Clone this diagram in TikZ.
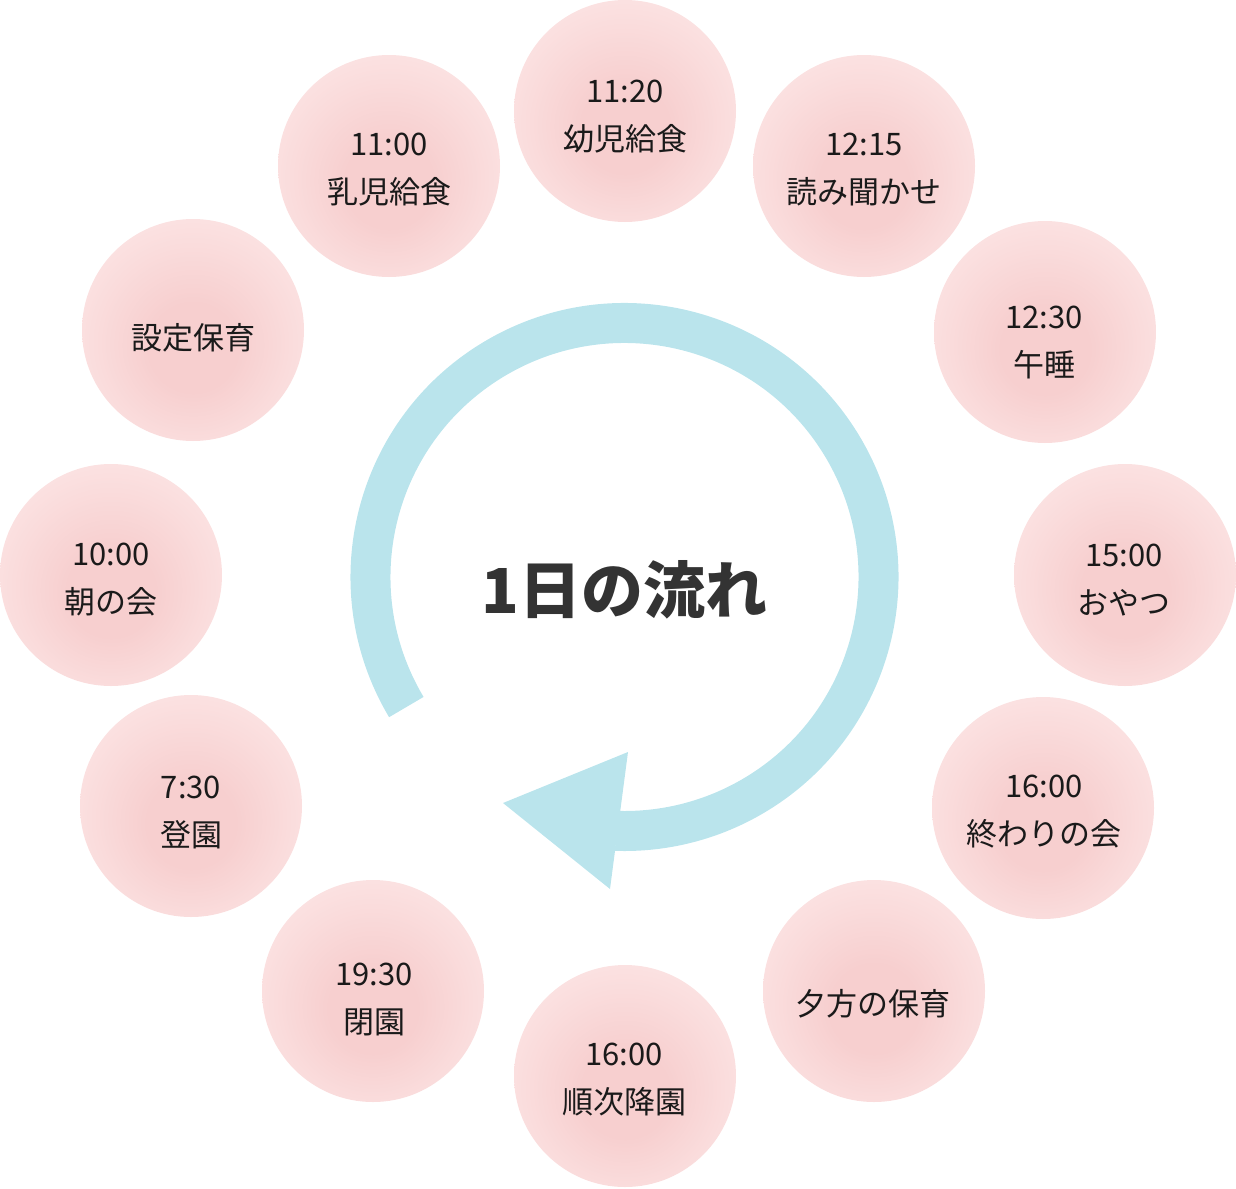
\documentclass[tikz,border=0pt]{standalone}
\usepackage{fontspec}
\newfontfamily\jp{Noto Sans CJK JP}
\usetikzlibrary{calc}
\definecolor{pinkL}{HTML}{FDE8E8}
\definecolor{pinkM}{HTML}{FADCDC}
\definecolor{pinkD}{HTML}{F7CFCF}
\definecolor{ringC}{HTML}{BAE4EC}
\definecolor{titleC}{HTML}{333333}
\definecolor{txtC}{HTML}{1A1A1A}
\pgfdeclareradialshading{bubbleshade}{\pgfpoint{0bp}{-5bp}}{color(0bp)=(pinkD); color(10bp)=(pinkD); color(22bp)=(pinkM); color(34bp)=(pinkL); color(50bp)=(pinkL)}
\tikzset{
  bubble/.style={circle, minimum size=222pt, inner sep=0pt, shading=bubbleshade},
  label/.style={align=center, text=txtC, font=\jp\fontsize{31}{48}\selectfont},
  ring/.style={draw=ringC, line width=40pt},
}
\begin{document}
\begin{tikzpicture}[x=1pt, y=-1pt]
\useasboundingbox (0,0) rectangle (1236,1188);
% circles
\node[bubble] (c1)  at (625,111) {};
\node[bubble] (c2)  at (389,166) {};
\node[bubble] (c3)  at (864,166) {};
\node[bubble] (c4)  at (193,330) {};
\node[bubble] (c5)  at (1045,332) {};
\node[bubble] (c6)  at (111,575) {};
\node[bubble] (c7)  at (1125,575) {};
\node[bubble] (c8)  at (191,806) {};
\node[bubble] (c9)  at (1043,808) {};
\node[bubble] (c10) at (874,991) {};
\node[bubble] (c11) at (373,991) {};
\node[bubble] (c12) at (625,1076) {};
% labels
\node[label] (t1)  at (625,117)  {11:20\\幼児給食};
\node[label] (t2)  at (389,170)  {11:00\\乳児給食};
\node[label] (t3)  at (864,170)  {12:15\\読み聞かせ};
\node[label] (t4)  at (193,338)  {設定保育};
\node[label] (t5)  at (1044,342) {12:30\\午睡};
\node[label] (t6)  at (111,580)  {10:00\\朝の会};
\node[label] (t7)  at (1124,580) {15:00\\おやつ};
\node[label] (t8)  at (191,812)  {7:30\\登園};
\node[label] (t9)  at (1044,812) {16:00\\終わりの会};
\node[label] (t10) at (873,1004) {夕方の保育};
\node[label] (t11) at (374,999)  {19:30\\閉園};
\node[label] (t12) at (624,1080) {16:00\\順次降園};
% cycle arrow
\coordinate (O) at (624.5,577);
\coordinate (arcS) at ($(O)+(149.2:254)$);
\draw[ring] (arcS) arc[start angle=149.2, end angle=452, radius=254];
\coordinate (tip) at (503,803);
\coordinate (ha) at (628,752);
\coordinate (hb) at (610,889);
\fill[ringC] (tip) -- (ha) -- (hb) -- cycle;
% title
\node[text=titleC, font=\jp\bfseries\fontsize{62}{70}\selectfont] (title) at (624.5,590) {1日の流れ};
\end{tikzpicture}
\end{document}
